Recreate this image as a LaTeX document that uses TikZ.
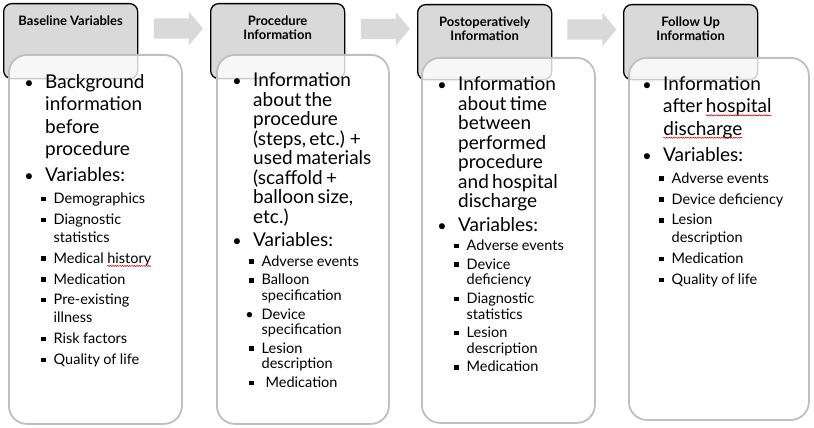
\documentclass[tikz,border=0pt]{standalone}
\usepackage{fontspec}
\setmainfont{Lato}[BoldFont={Lato Bold}]
\usepackage{enumitem}
\usetikzlibrary{shapes.arrows,calc,positioning,decorations.pathmorphing}

\definecolor{hdgray}{HTML}{D9D9D9}
\definecolor{bxgray}{HTML}{BFBFBF}
\newcommand\squig[1]{\tikz[baseline=(w.base)]{\node[inner sep=0pt,outer sep=0pt,text width=,anchor=base] (w) {#1};
  \draw[red!85!black,line width=.5pt,decorate,decoration={snake,amplitude=.6pt,segment length=2.4pt}] ([yshift=-2.6pt]w.base west) -- ([yshift=-2.6pt]w.base east);}}
\newcommand\sqbul{\raisebox{2.4pt}{\rule{4.5pt}{4.5pt}}}
\newcommand\dotbul{\scalebox{.85}{\textbullet}}
\def\lone{22.3pt}\def\ltwo{18pt}\def\septwo{2.8pt}

\setlist[itemize,1]{label=\dotbul,leftmargin=15pt,labelwidth=6pt,labelsep=11.5pt,topsep=0pt,partopsep=0pt,parsep=0pt,itemsep=4pt,before=\fontsize{19}{\lone}\selectfont}
\setlist[itemize,2]{label=\sqbul,leftmargin=8.5pt,labelwidth=4pt,labelsep=8pt,topsep=4pt,partopsep=0pt,parsep=0pt,itemsep=\septwo,before=\fontsize{14.5}{\ltwo}\selectfont}

\begin{document}
\begin{tikzpicture}[x=1pt,y=-1pt,
  head/.style={draw,line width=1.3pt,rounded corners=8pt,fill=hdgray,anchor=north west,minimum width=134pt,minimum height=75pt,inner sep=0pt},
  title/.style={anchor=north,inner sep=0pt,align=center,font=\bfseries\fontsize{13}{14}\selectfont},
  card/.style={draw=bxgray,line width=1.8pt,rounded corners=18pt,fill=white,fill opacity=.8,anchor=north west,inner sep=0pt},
  body/.style={anchor=north west,inner sep=0pt,text width=150pt,align=left},
  loose/.style={execute at begin node={\def\lone{22.3pt}\def\ltwo{18pt}\def\septwo{2.8pt}}},
  tight/.style={execute at begin node={\def\lone{19.5pt}\def\ltwo{15.5pt}\def\septwo{3.2pt}}},
  flow/.style={single arrow,fill=hdgray,draw=none,inner xsep=0pt,inner ysep=10pt,minimum height=49pt,single arrow head extend=6.5pt,single arrow tip angle=100}]
\useasboundingbox (0,0) rectangle (814,428);

% header boxes
\node[head] (h1) at (3,3) {};
\node[head] (h2) at (210,3) {};
\node[head] (h3) at (417,4) {};
\node[head] (h4) at (623,4) {};
\foreach \n/\txt in {1/Baseline Variables,2/{Procedure\\Information},3/{Postoperatively\\Information},4/{Follow Up\\Information}}
  \node[title] (t\n) at ($(h\n.north)+(0,12.5)$) {\txt};
\foreach \a/\b in {1/2,2/3,3/4}
  \node[flow] (a\a) at ($(h\a.north east)!.5!(h\b.north west)+(0,25.5)$) {};

% content cards
\node[card,minimum width=173pt,minimum height=369pt] (c1) at (8,54) {};
\node[card,minimum width=172pt,minimum height=369pt] (c2) at (216,54) {};
\node[card,minimum width=173pt,minimum height=365pt] (c3) at (421,57) {};
\node[card,minimum width=180pt,minimum height=362pt] (c4) at (628,57) {};

\node[body,loose] (l1) at ($(c1.north west)+(22,12)$) {\begin{itemize}
  \item Background\\information\\before\\procedure
  \item Variables:\par
  \begin{itemize}
    \item Demographics
    \item Diagnostic\\statistics
    \item Medical \squig{history}
    \item Medication
    \item Pre-existing\\illness
    \item Risk factors
    \item Quality of life
  \end{itemize}
\end{itemize}};
\node[body,tight] (l2) at ($(c2.north west)+(22,13)$) {\begin{itemize}
  \item Information\\about the\\procedure\\(steps, etc.) +\\used materials\\(scaffold +\\balloon size,\\etc.)
  \item Variables:\par
  \begin{itemize}
    \item Adverse events
    \item Balloon\\specification
    \item[\textbullet] Device\\specification
    \item Lesion\\description
    \item \hspace{4pt}Medication
  \end{itemize}
\end{itemize}};
\node[body,tight] (l3) at ($(c3.north west)+(22,14)$) {\begin{itemize}
  \item Information\\about time\\between\\performed\\procedure\\and hospital\\discharge
  \item Variables:\par
  \begin{itemize}
    \item Adverse events
    \item Device\\deficiency
    \item Diagnostic\\statistics
    \item Lesion\\description
    \item Medication
  \end{itemize}
\end{itemize}};
\node[body,loose] (l4) at ($(c4.north west)+(20,11)$) {\begin{itemize}
  \item Information\\after \squig{hospital}\\\squig{discharge}
  \item Variables:\par
  \begin{itemize}
    \item Adverse events
    \item Device deficiency
    \item Lesion\\description
    \item Medication
    \item Quality of life
  \end{itemize}
\end{itemize}};
\end{tikzpicture}
\end{document}
